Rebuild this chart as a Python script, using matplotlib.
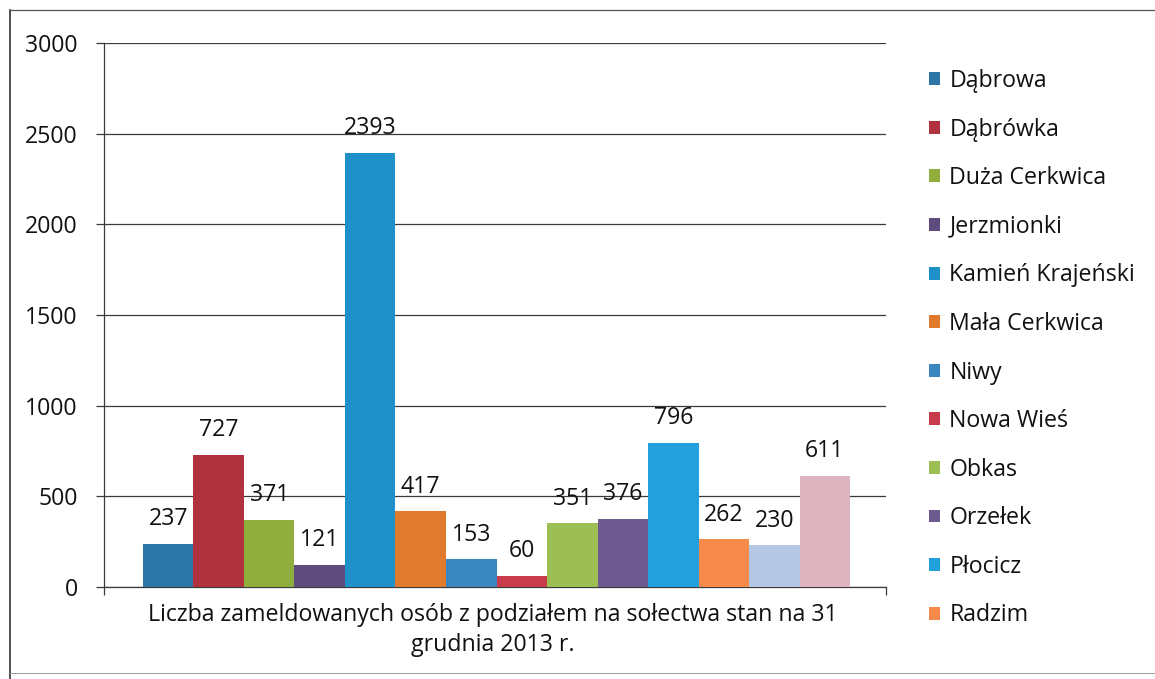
import matplotlib
matplotlib.use("Agg")
import matplotlib.pyplot as plt
from matplotlib.lines import Line2D
from matplotlib.patches import Patch
import numpy as np

plt.rcParams["font.family"] = ["Open Sans", "DejaVu Sans"]

# data
legend_names = [
    "Dąbrowa", "Dąbrówka", "Duża Cerkwica", "Jerzmionki", "Kamień Krajeński",
    "Mała Cerkwica", "Niwy", "Nowa Wieś", "Obkas", "Orzełek", "Płocicz", "Radzim",
]
values = [237, 727, 371, 121, 2393, 417, 153, 60, 351, 376, 796, 262, 230, 611]
colors = [
    "#2C77A8", "#B0323F", "#8FAE3E", "#5F4B7E", "#2090C8", "#E07B2E",
    "#3A86C0", "#C73B4B", "#9CBE52", "#6D5A8E", "#22A0DC", "#F58A4A",
    "#B4C8E6", "#DDB5C0",
]
y_ticks = [0, 500, 1000, 1500, 2000, 2500, 3000]
category_label = "Liczba zameldowanych osób z podziałem na sołectwa stan na 31\ngrudnia 2013 r."

W, H = 1155, 679
fig = plt.figure(figsize=(W / 100, H / 100), dpi=100)
ax = fig.add_axes([104 / W, 1 - 587 / H, (886 - 104) / W, (587 - 43) / H])

ink = "#111111"
grid_c = "#3a3a3a"
fs = 16.7

x = np.arange(len(values))
ax.bar(x, values, width=1.0, color=colors, zorder=3)

for xi, v in zip(x, values):
    ax.annotate(str(v), (xi, v), xytext=(0, 13.5), textcoords="offset points",
                ha="center", va="baseline", fontsize=fs, color=ink, zorder=4)

ax.set_xlim(-1.27, 14.21)
ax.set_ylim(0, 3000)
ax.set_yticks(y_ticks)
ax.set_yticklabels([str(t) for t in y_ticks], fontsize=fs, color=ink)
ax.tick_params(axis="y", length=5.8, width=0.9, color=grid_c, pad=13)
ax.set_xticks([-1.27, 14.21])
ax.set_xticklabels(["", ""])
ax.tick_params(axis="x", length=5.8, width=0.9, color=grid_c)

ax.yaxis.grid(True, color=grid_c, linewidth=0.9, zorder=0)
for side in ["top", "right"]:
    ax.spines[side].set_visible(False)
ax.spines["left"].set_color(grid_c)
ax.spines["bottom"].set_color(grid_c)
ax.spines["left"].set_linewidth(0.9)
ax.spines["bottom"].set_linewidth(0.9)

fig.text(493 / W, 1 - 630 / H, category_label, ha="center", va="center",
         fontsize=fs, color=ink, linespacing=1.3)

handles = [Patch(facecolor=c) for c in colors[:len(legend_names)]]
fig.legend(handles, legend_names, loc="upper left",
           bbox_to_anchor=(929 / W, 1 - 69 / H), frameon=False, fontsize=fs,
           handlelength=0.48, handleheight=0.48, handletextpad=0.4,
           labelspacing=1.06, labelcolor=ink, borderaxespad=0, borderpad=0)

# outer frame of the chart
fig.add_artist(Line2D([10 / W, 10 / W], [0, 1 - 10 / H], color="#333333", linewidth=1.2))
fig.add_artist(Line2D([10 / W, 1], [1 - 10 / H, 1 - 10 / H], color="#555555", linewidth=0.9))
fig.add_artist(Line2D([10 / W, 1], [1 - 673 / H, 1 - 673 / H], color="#999999", linewidth=0.7))

fig.savefig("out.png", dpi=100)
